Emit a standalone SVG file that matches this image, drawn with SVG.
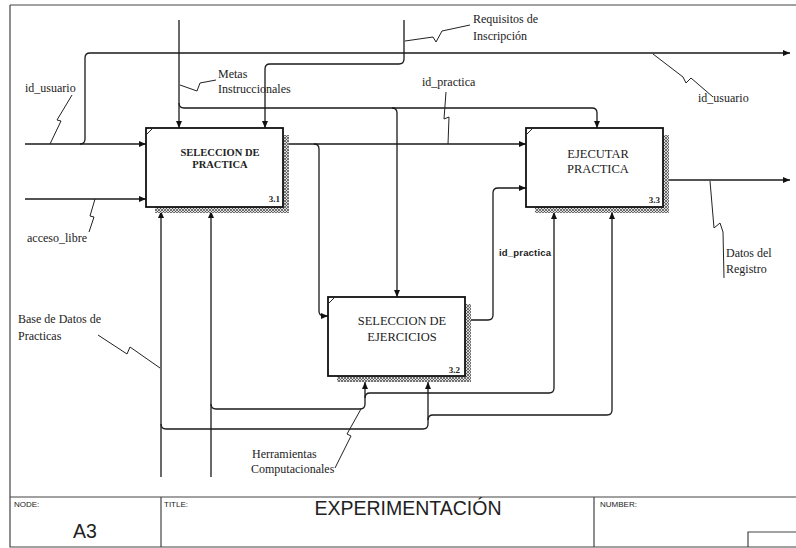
<svg xmlns="http://www.w3.org/2000/svg" width="796" height="548" viewBox="0 0 796 548">
<defs>
<pattern id="hatch" width="3" height="3" patternUnits="userSpaceOnUse">
<rect width="3" height="3" fill="#ddd"/>
<path d="M0,0 L3,3 M3,0 L0,3" stroke="#444" stroke-width="0.7"/>
</pattern>
<marker id="arr" markerWidth="8" markerHeight="6" refX="7" refY="3" orient="auto" markerUnits="userSpaceOnUse">
<path d="M0,0 L7,3 L0,6 z" fill="#111"/>
</marker>
</defs>
<style>
.box{fill:#fff;stroke:#111;stroke-width:1.8}
.sh{fill:url(#hatch)}
.ln{fill:none;stroke:#1a1a1a;stroke-width:1.3}
.ar{marker-end:url(#arr)}
.sq{fill:none;stroke:#222;stroke-width:1}
.lbl{font-family:"Liberation Serif","Times New Roman",serif;font-size:12px;fill:#222}
.bx{font-family:"Liberation Serif","Times New Roman",serif;fill:#222;text-anchor:middle}
.num{font-family:"Liberation Serif","Times New Roman",serif;font-size:9px;font-weight:bold;fill:#222;text-anchor:end}
.tb{font-family:"Liberation Sans",Arial,sans-serif;fill:#222}
.frame{fill:none;stroke:#444;stroke-width:1.2}
</style>
<rect width="796" height="548" fill="#fff"/>

<!-- frame and title block -->
<g id="frame">
<path class="frame" d="M10,5 H796 M10,5 V547 H796 M10,497 H796 M161,497 V547 M594,497 V547 M748,547 V532 H796"/>
<text class="tb" x="14" y="507" font-size="8">NODE:</text>
<text class="tb" x="73" y="538" font-size="19.5">A3</text>
<text class="tb" x="164" y="507" font-size="8">TITLE:</text>
<text class="tb" x="408" y="515" font-size="19.5" text-anchor="middle">EXPERIMENTACIÓN</text>
<text class="tb" x="600" y="507" font-size="8">NUMBER:</text>
</g>

<!-- connectors -->
<g id="connectors">
<!-- id_usuario input + branch -->
<path class="ln ar" d="M25,144 H146"/>
<path class="ln ar" d="M80,144 Q85,144 85,139 V58 Q85,53 90,53 H790"/>
<!-- acceso_libre -->
<path class="ln ar" d="M25,199 H146"/>
<!-- Metas Instruccionales -->
<path class="ln ar" d="M179,20 V128"/>
<path class="ln ar" d="M179,103 Q179,108 184,108 H592 Q597,108 597,113 V128"/>
<path class="ln ar" d="M392,108 Q397,108 397,113 V297"/>
<!-- Requisitos de Inscripcion -->
<path class="ln ar" d="M404,20 V59 Q404,64 399,64 H270 Q265,64 265,69 V128"/>
<!-- 3.1 output id_practica -->
<path class="ln ar" d="M289,144 H526"/>
<path class="ln ar" d="M314,144 Q319,144 319,149 V311 Q319,316 324,316 H328"/>
<!-- 3.2 output -->
<path class="ln ar" d="M471,320 H488 Q493,320 493,315 V193 Q493,188 498,188 H526"/>
<!-- 3.3 output -->
<path class="ln ar" d="M669,180 H790"/>
<!-- Base de Datos de Practicas -->
<path class="ln ar" d="M161,477 V211"/>
<path class="ln ar" d="M161,424 Q161,429 166,429 H423 Q428,429 428,424 V382"/>
<path class="ln ar" d="M428,420 Q428,415 433,415 H607 Q612,415 612,410 V212"/>
<!-- Herramientas Computacionales -->
<path class="ln ar" d="M211,477 V211"/>
<path class="ln ar" d="M211,404 Q211,409 216,409 H360 Q365,409 365,404 V382"/>
<path class="ln ar" d="M365,398 Q365,393 370,393 H549 Q554,393 554,388 V212"/>
<!-- label squiggles -->
<path class="sq" d="M50,144 L61,121 L57,120 L72,95"/>
<path class="sq" d="M95,199 L90,216 L94,217 L89,232"/>
<path class="sq" d="M180,85 L197,91 L200,83 L216,80"/>
<path class="sq" d="M405,41 L433,37 L436,42 L442,31 L470,25"/>
<path class="sq" d="M448,144 L449,117 L444,119 L446,92"/>
<path class="sq" d="M653,54 L683,77 L686,83 L691,78 L713,97"/>
<path class="sq" d="M710,181 L714,228 L720,223 L723,232 L724,278"/>
<path class="sq" d="M98,335 L127,354 L130,347 L160,368"/>
<path class="sq" d="M361,409 L347,434 L351,436 L335,468"/>
</g>

<!-- nodes -->
<g id="node-3-1">
<rect class="sh" x="283" y="135" width="6" height="78"/>
<rect class="sh" x="155" y="207" width="134" height="6"/>
<rect class="box" x="146" y="128" width="137" height="79"/>
<path class="sq" d="M147,134 L152,129"/>
<text class="bx" x="220" y="156" font-size="10.5" font-weight="bold">SELECCION DE</text>
<text class="bx" x="220" y="168" font-size="10.5" font-weight="bold">PRACTICA</text>
<text class="num" x="280" y="202">3.1</text>
</g>

<g id="node-3-2">
<rect class="sh" x="465" y="304" width="6" height="78"/>
<rect class="sh" x="337" y="376" width="134" height="6"/>
<rect class="box" x="328" y="297" width="137" height="79"/>
<path class="sq" d="M329,303 L334,298"/>
<text class="bx" x="402" y="325" font-size="12.5">SELECCION DE</text>
<text class="bx" x="402" y="341" font-size="12.5">EJERCICIOS</text>
<text class="num" x="460" y="373">3.2</text>
</g>

<g id="node-3-3">
<rect class="sh" x="663" y="135" width="6" height="78"/>
<rect class="sh" x="535" y="207" width="134" height="6"/>
<rect class="box" x="526" y="128" width="137" height="79"/>
<path class="sq" d="M527,134 L532,129"/>
<text class="bx" x="598" y="158" font-size="12.5">EJECUTAR</text>
<text class="bx" x="598" y="173" font-size="12.5">PRACTICA</text>
<text class="num" x="660" y="203">3.3</text>
</g>

<!-- arrow labels -->
<g id="labels">
<text class="lbl" x="25" y="92">id_usuario</text>
<text class="lbl" x="27" y="242">acceso_libre</text>
<text class="lbl" x="218" y="78">Metas</text>
<text class="lbl" x="218" y="93">Instruccionales</text>
<text class="lbl" x="473" y="23">Requisitos de</text>
<text class="lbl" x="473" y="40">Inscripción</text>
<text class="lbl" x="422" y="86">id_practica</text>
<text class="lbl" x="698" y="102">id_usuario</text>
<text class="tb" x="499" y="256" font-size="9.5" font-weight="bold" textLength="52">id_practica</text>
<text class="lbl" x="726" y="257">Datos del</text>
<text class="lbl" x="726" y="273">Registro</text>
<text class="lbl" x="18" y="323">Base de Datos de</text>
<text class="lbl" x="18" y="340">Practicas</text>
<text class="lbl" x="252" y="458">Herramientas</text>
<text class="lbl" x="251" y="473">Computacionales</text>
</g>
</svg>
